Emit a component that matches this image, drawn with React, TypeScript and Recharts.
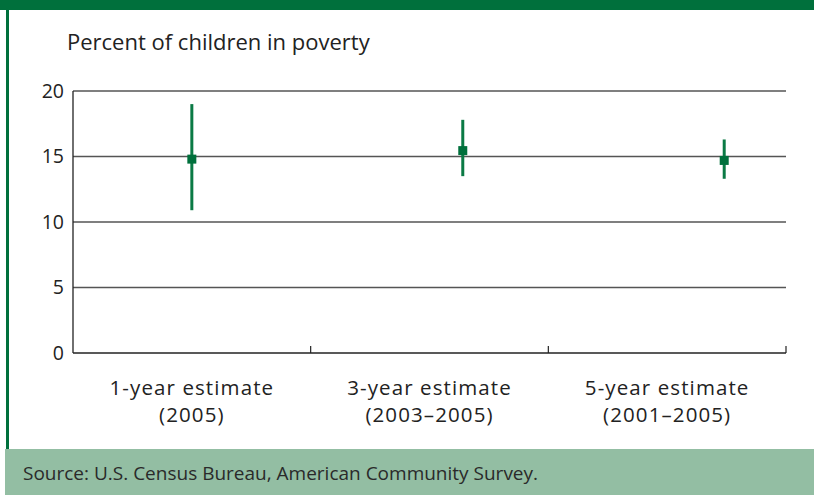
import React from "react";
import {
  ComposedChart,
  Scatter,
  ErrorBar,
  XAxis,
  YAxis,
  CartesianGrid,
} from "recharts";

const categories = ["1-year estimate", "3-year estimate", "5-year estimate"];
const periods = ["(2005)", "(2003–2005)", "(2001–2005)"];
// where each estimate sits along the x axis (band units, 0..3)
const positions = [0.5, 1.64, 2.74];
const estimates = [14.8, 15.45, 14.7];
const lower = [10.9, 13.5, 13.3];
const upper = [19.0, 17.8, 16.3];
const yTicks = [0, 5, 10, 15, 20];
const bandEdges = [0, 1, 2, 3];
const labelSpots = [0.5, 1.5, 2.5];

const GREEN = "#00703c";
const FONT = "'Open Sans', 'Noto Sans', sans-serif";

const data = estimates.map((v, i) => ({
  x: positions[i],
  y: v,
  err: [v - lower[i], upper[i] - v],
}));

function Square(props: any) {
  const { cx, cy } = props;
  if (cx == null || cy == null) return null;
  return <rect x={cx - 4.5} y={cy - 4.5} width={9} height={9} fill={GREEN} />;
}

function EdgeTick(props: any) {
  const { x, y, payload } = props;
  if (payload.value === 0) return null;
  return <line x1={x} x2={x} y1={y} y2={y - 7} stroke="#222" strokeWidth={1.2} />;
}

function LabelTick(props: any) {
  const { x, y, index } = props;
  return (
    <text
      x={x}
      textAnchor="middle"
      fontFamily={FONT}
      fontSize={20.5}
      letterSpacing={1.1}
      fill="#222"
    >
      <tspan x={x} y={y + 41}>{categories[index]}</tspan>
      <tspan x={x} y={y + 68}>{periods[index]}</tspan>
    </text>
  );
}

export default function App() {
  return (
    <div
      style={{
        position: "absolute",
        left: 0,
        top: 0,
        width: 814,
        height: 495,
        background: "#fff",
        overflow: "hidden",
        fontFamily: FONT,
      }}
    >
      <div style={{ position: "absolute", left: 0, top: 0, width: 814, height: 10, background: GREEN }} />
      <div style={{ position: "absolute", left: 6, top: 0, width: 3, height: 449, background: GREEN }} />
      <div
        style={{
          position: "absolute",
          left: 67,
          top: 26,
          fontSize: 22,
          color: "#222",
          whiteSpace: "nowrap",
        }}
      >
        Percent of children in poverty
      </div>

      <div style={{ position: "absolute", left: 0, top: 0 }}>
        <ComposedChart
          width={814}
          height={495}
          data={data}
          margin={{ top: 91, right: 28, bottom: 81, left: 0 }}
        >
          <CartesianGrid
            vertical={false}
            stroke="#555"
            strokeWidth={1.3}
            horizontalValues={[5, 10, 15, 20]}
          />
          <XAxis
            xAxisId={0}
            type="number"
            dataKey="x"
            domain={[0, 3]}
            ticks={bandEdges}
            height={1}
            tickSize={0}
            tickMargin={0}
            axisLine={{ stroke: "#222", strokeWidth: 1.3 }}
            tickLine={false}
            tick={<EdgeTick />}
            interval={0}
          />
          <XAxis
            xAxisId="labels"
            type="number"
            dataKey="x"
            domain={[0, 3]}
            ticks={labelSpots}
            height={60}
            tickSize={0}
            tickMargin={0}
            axisLine={false}
            tickLine={false}
            tick={<LabelTick />}
            interval={0}
          />
          <YAxis
            type="number"
            domain={[0, 20]}
            ticks={yTicks}
            width={73}
            tickSize={0}
            tickMargin={9}
            axisLine={{ stroke: "#222", strokeWidth: 1.3 }}
            tickLine={false}
            tick={{ fill: "#222", fontSize: 19.5, fontFamily: FONT }}
            interval={0}
          />
          <Scatter
            xAxisId={0}
            dataKey="y"
            fill={GREEN}
            shape={<Square />}
            isAnimationActive={false}
          >
            <ErrorBar
              dataKey="err"
              direction="y"
              width={0}
              stroke="#0b7a45"
              strokeWidth={3}
              isAnimationActive={false}
            />
          </Scatter>
        </ComposedChart>
      </div>

      <div
        style={{
          position: "absolute",
          left: 5,
          top: 449,
          width: 809,
          height: 46,
          background: "#93bea3",
        }}
      />
      <div
        style={{
          position: "absolute",
          left: 23,
          top: 460,
          fontSize: 19,
          color: "#2a2a2a",
          whiteSpace: "nowrap",
        }}
      >
        Source: U.S. Census Bureau, American Community Survey.
      </div>
    </div>
  );
}
